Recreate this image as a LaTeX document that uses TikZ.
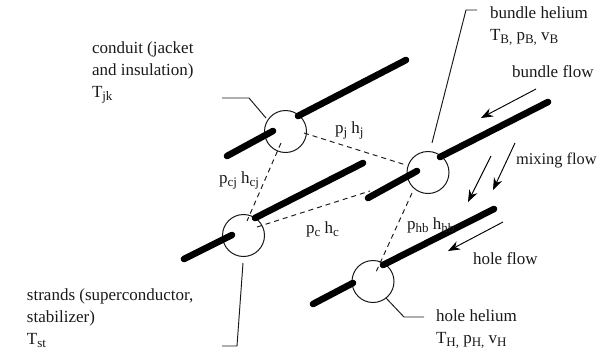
\documentclass[tikz,border=0pt]{standalone}
\usepackage{fontspec}
\setmainfont{Liberation Serif}
\usetikzlibrary{arrows.meta}
\newcommand{\lowtext}[1]{\raisebox{-0.2em}{\fontsize{13}{13}\selectfont #1}}
\tikzset{
  lbl/.style={anchor=base west,inner sep=0pt,outer sep=0pt,align=left,font=\fontsize{17}{22}\selectfont,text=black!90},
  strandball/.style={circle,draw=black!90,line width=1pt,minimum size=42pt,inner sep=0pt,outer sep=0pt},
  rod/.style={line width=6.6pt,line cap=round},
  leader/.style={line width=0.95pt,black!90},
  linkline/.style={line width=0.95pt,black!90,dash pattern=on 5pt off 4pt},
  flowarrow/.style={line width=0.95pt,-{Stealth[length=12pt,width=9pt]}}
}
\begin{document}
\begin{tikzpicture}[x=1pt,y=-1pt]
\useasboundingbox (0,0) rectangle (606,349);
% circles
\node[strandball] (jk) at (285.5,131.5) {};
\node[strandball] (st) at (243.5,235.5) {};
\node[strandball] (bh) at (428,172.5) {};
\node[strandball] (hh) at (373,281.5) {};
% rod ends
\coordinate (jkA) at (227,156); \coordinate (jkB) at (273,131);
\coordinate (jkC) at (298,116); \coordinate (jkD) at (406,60);
\coordinate (stA) at (184,259); \coordinate (stB) at (232,235);
\coordinate (stC) at (255,218); \coordinate (stD) at (363,163);
\coordinate (bhA) at (368,198); \coordinate (bhB) at (417,171);
\coordinate (bhC) at (440,157); \coordinate (bhD) at (548,102);
\coordinate (hhA) at (313,304); \coordinate (hhB) at (353,283);
\coordinate (hhC) at (383,265); \coordinate (hhD) at (494,209);
\draw[rod] (jkA) -- (jkB); \draw[rod] (jkC) -- (jkD);
\draw[rod] (stA) -- (stB); \draw[rod] (stC) -- (stD);
\draw[rod] (bhA) -- (bhB); \draw[rod] (bhC) -- (bhD);
\draw[rod] (hhA) -- (hhB); \draw[rod] (hhC) -- (hhD);
% dashed links
\coordinate (l1a) at (304,133); \coordinate (l1b) at (406,165);
\coordinate (l2a) at (281,143); \coordinate (l2b) at (247,221);
\coordinate (l3a) at (257,227); \coordinate (l3b) at (370,191);
\coordinate (l4a) at (412,193); \coordinate (l4b) at (376,272);
\draw[linkline] (l1a) -- (l1b);
\draw[linkline] (l2a) -- (l2b);
\draw[linkline] (l3a) -- (l3b);
\draw[linkline] (l4a) -- (l4b);
% leaders
\coordinate (q1) at (222,98); \coordinate (q1k) at (249,98); \coordinate (q1e) at (266,118);
\coordinate (q2) at (477,10); \coordinate (q2k) at (466,10); \coordinate (q2e) at (432,143);
\coordinate (q3) at (222,346); \coordinate (q3k) at (237,346); \coordinate (q3e) at (243,263);
\coordinate (q4) at (424,317); \coordinate (q4k) at (404,317); \coordinate (q4e) at (386,298);
\draw[leader] (q1) -- (q1k) -- (q1e);
\draw[leader] (q2) -- (q2k) -- (q2e);
\draw[leader] (q3) -- (q3k) -- (q3e);
\draw[leader] (q4) -- (q4k) -- (q4e);
% flow arrows
\coordinate (f1a) at (536,89); \coordinate (f1b) at (481,118);
\coordinate (f2a) at (503,222); \coordinate (f2b) at (448,251);
\coordinate (f3a) at (491,156); \coordinate (f3b) at (468,202);
\coordinate (f4a) at (515,143); \coordinate (f4b) at (493,190);
\draw[flowarrow] (f1a) -- (f1b);
\draw[flowarrow] (f2a) -- (f2b);
\draw[flowarrow] (f3a) -- (f3b);
\draw[flowarrow] (f4a) -- (f4b);
% labels
\node[lbl] (t1) at (92,97) {conduit (jacket\\and insulation)\\T\lowtext{jk}};
\node[lbl] (t2) at (27,344) {strands (superconductor,\\stabilizer)\\T\lowtext{st}};
\node[lbl] (t3) at (490,40) {bundle helium\\T\lowtext{B,} p\lowtext{B,} v\lowtext{B}};
\node[lbl] (t4) at (436,343) {hole helium\\T\lowtext{H,} p\lowtext{H,} v\lowtext{H}};
\node[lbl] (t5) at (512,77) {bundle flow};
\node[lbl,font=\fontsize{16.4}{20}\selectfont] (t6) at (516,164) {mixing flow};
\node[lbl] (t7) at (473,264) {hole flow};
\node[lbl] (t8) at (335,133) {p\lowtext{j} h\lowtext{j}};
\node[lbl] (t9) at (219,183) {p\lowtext{cj} h\lowtext{cj}};
\node[lbl] (t10) at (306,233) {p\lowtext{c} h\lowtext{c}};
\node[lbl] (t11) at (407,229) {p\lowtext{hb} h\lowtext{hb}};
\end{tikzpicture}
\end{document}
